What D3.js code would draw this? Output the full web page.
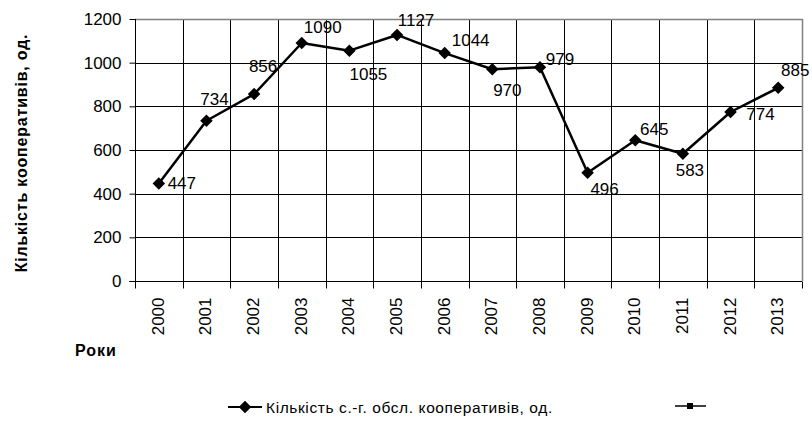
<!DOCTYPE html>
<html>
<head>
<meta charset="utf-8">
<script src="https://cdn.jsdelivr.net/npm/d3@7"></script>
<style>
  html, body { margin: 0; padding: 0; background: #fff; }
  svg { display: block; font-family: "Liberation Sans", Arial, sans-serif; }
</style>
</head>
<body>
<svg id="chart" width="812" height="429"></svg>
<script>
// ---- data ----
const years = ["2000","2001","2002","2003","2004","2005","2006","2007","2008","2009","2010","2011","2012","2013"];
const cooperatives = [447, 734, 856, 1090, 1055, 1127, 1044, 970, 979, 496, 645, 583, 774, 885];
const yTicks = [0, 200, 400, 600, 800, 1000, 1200];
const seriesName = "Кількість с.-г. обсл. кооперативів, од.";
const yTitle = "Кількість кооперативів, од.";
const xTitle = "Роки";
// label offsets relative to the point (layout)
const labelOffsets = [[23,0],[8,-21],[9,-28],[21,-16],[19,24],[19,-14],[26,-13],[15,21],[20,-8],[17,17],[19,-11],[7,17],[30,2],[17,-17]];

// ---- layout ----
const m = { left: 135, right: 802, top: 19, bottom: 281 };
const svg = d3.select("#chart");

const x = d3.scaleBand().domain(years).range([m.left, m.right]).padding(0);
const y = d3.scaleLinear().domain([0, 1200]).range([m.bottom, m.top]);

// horizontal gridlines
svg.append("g").selectAll("line").data(yTicks.filter(d => d > 0 && d < 1200)).join("line")
  .attr("x1", m.left).attr("x2", m.right)
  .attr("y1", d => Math.round(y(d)) + 0.5).attr("y2", d => Math.round(y(d)) + 0.5)
  .attr("stroke", "#000").attr("stroke-width", 1);

// vertical gridlines at category boundaries
svg.append("g").selectAll("line").data(years.slice(1)).join("line")
  .attr("x1", d => Math.round(x(d)) + 0.5).attr("x2", d => Math.round(x(d)) + 0.5)
  .attr("y1", m.top).attr("y2", m.bottom)
  .attr("stroke", "#000").attr("stroke-width", 1);

// border top & right (gray)
svg.append("line").attr("x1", m.left).attr("x2", m.right + 0.5)
  .attr("y1", m.top + 0.5).attr("y2", m.top + 0.5).attr("stroke", "#808080").attr("stroke-width", 1.5);
svg.append("line").attr("x1", m.right + 0.5).attr("x2", m.right + 0.5)
  .attr("y1", m.top).attr("y2", m.bottom).attr("stroke", "#808080").attr("stroke-width", 1.5);

// y axis
const yAxis = d3.axisLeft(y).tickValues(yTicks).tickSize(6).tickPadding(8).tickFormat(d3.format("d"));
const gy = svg.append("g").attr("transform", `translate(${m.left + 0.5},0)`).call(yAxis);
gy.select(".domain").attr("stroke", "#000").attr("d", `M-6,${m.bottom + 0.5}H0V${m.top}`);
gy.selectAll(".tick line").attr("stroke", "#000");
gy.selectAll(".tick text").attr("font-size", 17).attr("fill", "#000")
  .attr("font-family", "Liberation Sans, Arial, sans-serif");

// x axis: ticks at category boundaries
const gx = svg.append("g").attr("transform", `translate(0,${m.bottom + 0.5})`);
gx.append("line").attr("x1", m.left).attr("x2", m.right).attr("stroke", "#000");
const boundaries = years.map(d => x(d)).concat([x(years[years.length - 1]) + x.bandwidth()]);
gx.selectAll("line.tk").data(boundaries).join("line").attr("class", "tk")
  .attr("x1", d => Math.round(d) + 0.5).attr("x2", d => Math.round(d) + 0.5)
  .attr("y1", 0).attr("y2", 7).attr("stroke", "#000");
gx.selectAll("text").data(years).join("text")
  .attr("transform", d => `translate(${x(d) + x.bandwidth() / 2 + 5},16) rotate(-90)`)
  .attr("text-anchor", "end")
  .attr("font-size", 17).attr("fill", "#000")
  .text(d => d);

// line
const pts = years.map((yr, i) => ({ yr, v: cooperatives[i], i }));
const line = d3.line().x(d => x(d.yr) + x.bandwidth() / 2).y(d => y(d.v));
svg.append("path").datum(pts).attr("d", line)
  .attr("fill", "none").attr("stroke", "#000").attr("stroke-width", 2.5).attr("stroke-linejoin", "round");

// markers
const diamond = d3.symbol().type(d3.symbolDiamond2).size(100);
svg.append("g").selectAll("path").data(pts).join("path")
  .attr("d", diamond)
  .attr("transform", d => `translate(${x(d.yr) + x.bandwidth() / 2},${y(d.v)})`)
  .attr("fill", "#000");

// data labels
svg.append("g").selectAll("text").data(pts).join("text")
  .attr("x", d => x(d.yr) + x.bandwidth() / 2 + labelOffsets[d.i][0])
  .attr("y", d => y(d.v) + labelOffsets[d.i][1])
  .attr("text-anchor", "middle").attr("dominant-baseline", "central")
  .attr("font-size", 17).attr("fill", "#000")
  .text(d => d.v);

// axis titles
svg.append("text")
  .attr("transform", `translate(21,153) rotate(-90)`)
  .attr("text-anchor", "middle").attr("dominant-baseline", "central")
  .attr("font-size", 16).attr("font-weight", "bold").attr("letter-spacing", 0.8).attr("fill", "#000")
  .text(yTitle);
svg.append("text").attr("x", 75).attr("y", 356)
  .attr("font-size", 16).attr("font-weight", "bold").attr("letter-spacing", 1).attr("fill", "#000")
  .text(xTitle);

// legend
const lg = svg.append("g");
lg.append("line").attr("x1", 228).attr("x2", 262).attr("y1", 407).attr("y2", 407)
  .attr("stroke", "#000").attr("stroke-width", 2);
lg.append("path").attr("d", diamond).attr("transform", "translate(245,407)").attr("fill", "#000");
lg.append("text").attr("x", 266).attr("y", 407).attr("dominant-baseline", "central")
  .attr("font-size", 15.5).attr("letter-spacing", 0.6).attr("fill", "#000").text(seriesName);
lg.append("line").attr("x1", 675).attr("x2", 706).attr("y1", 406).attr("y2", 406)
  .attr("stroke", "#000").attr("stroke-width", 1.5);
lg.append("rect").attr("x", 687).attr("y", 403).attr("width", 6).attr("height", 6).attr("fill", "#000");
</script>
</body>
</html>
